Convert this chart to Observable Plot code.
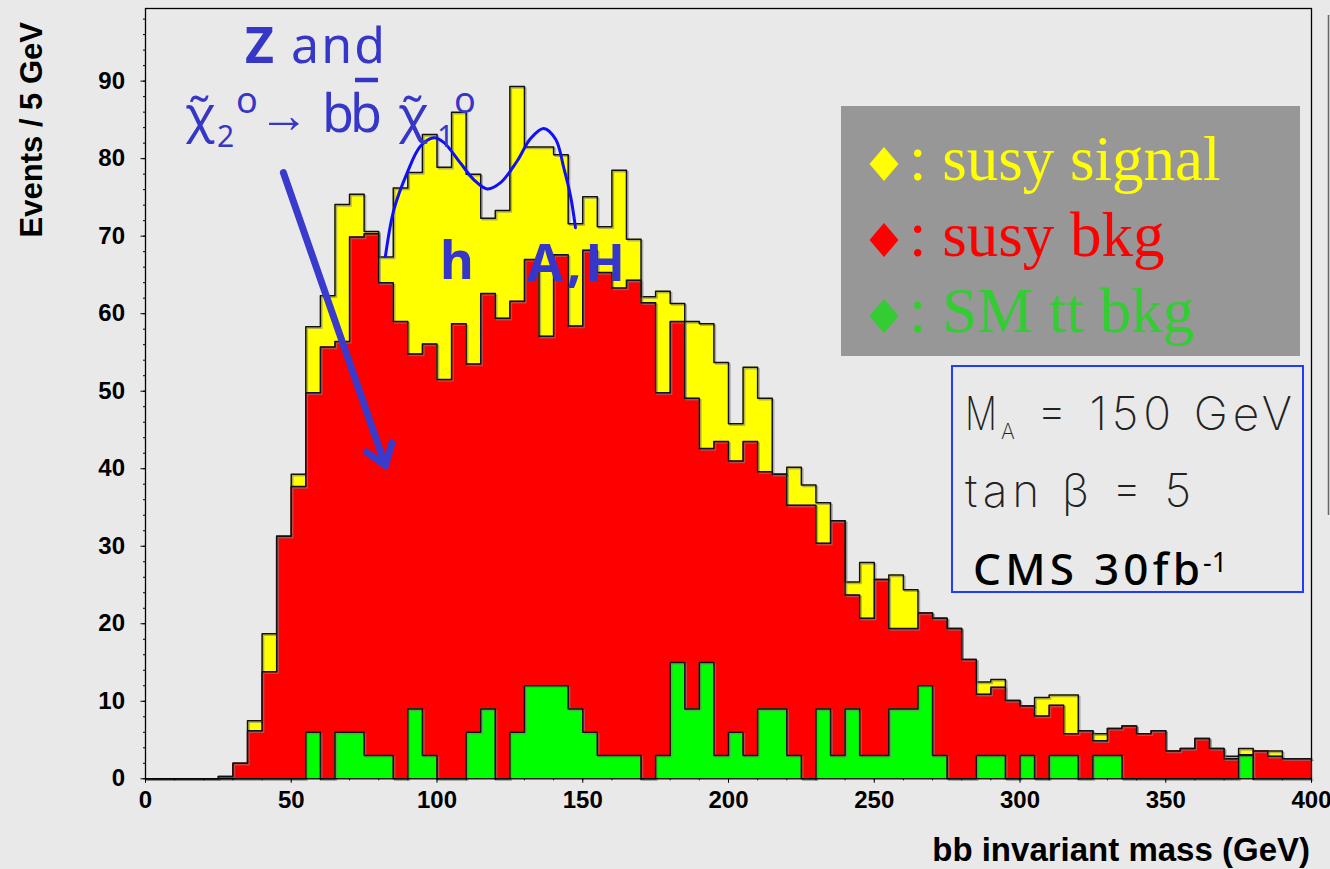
<!DOCTYPE html>
<html>
<head>
<meta charset="utf-8">
<script src="https://cdn.jsdelivr.net/npm/d3@7"></script>
<script src="https://cdn.jsdelivr.net/npm/@observablehq/plot@0.6"></script>
<style>
  html, body { margin: 0; padding: 0; background: #e9e9e9; }
  #chart { position: relative; width: 1330px; height: 869px; overflow: hidden; }
</style>
</head>
<body>
<div id="chart"></div>
<script>
// bb invariant mass, 5 GeV bins from 0 to 400 GeV (lower bin edges)
const binWidth = 5;
const binLo = d3.range(0, 400, binWidth);

// Stacked histogram tops (events / 5 GeV)
// signal + susy bkg + SM tt
const stackTotal = [
  0, 0, 0, 0, 0, 0.3, 2, 7.5, 18.7, 31.3,
  39.3, 58.3, 62.3, 74.1, 75.4, 70.6, 67.3, 76.2, 78.2, 83.1,
  78.9, 86.0, 78.0, 72.3, 73.3, 89.3, 81.5, 81.5, 80.5, 71.6,
  75.1, 71.2, 78.5, 69.6, 62.2, 62.9, 61.3, 59.0, 58.7, 53.7,
  45.8, 53.1, 49.1, 39.3, 40.2, 37.9, 35.6, 33.3, 25.4, 27.9,
  25.7, 26.3, 24.4, 21.4, 20.7, 19.4, 15.4, 12.5, 12.8, 10.1,
  9.4, 10.5, 10.8, 10.8, 6.2, 5.8, 6.5, 6.8, 5.8, 6.2,
  3.6, 3.9, 5.2, 3.9, 2.9, 3.9, 3.6, 3.6, 2.6, 2.6
];
// susy bkg + SM tt
const bkgTotal = [
  0, 0, 0, 0, 0, 0.3, 2, 6.2, 13.8, 31.3,
  37.7, 49.8, 55.7, 56.4, 69.9, 70.3, 64.0, 59.0, 54.8, 56.1,
  51.5, 58.7, 53.5, 62.6, 59.4, 61.6, 67.0, 57.1, 67.6, 58.4,
  68.2, 65.3, 63.3, 64.3, 61.4, 49.8, 59.0, 49.1, 42.6, 43.5,
  41.0, 43.5, 39.6, 39.3, 35.3, 35.3, 30.4, 33.3, 23.7, 20.7,
  25.7, 19.4, 19.4, 21.4, 20.7, 19.4, 15.4, 10.9, 11.8, 10.1,
  9.4, 8.1, 9.5, 5.8, 6.2, 4.9, 6.5, 6.8, 5.8, 6.2,
  3.6, 3.9, 5.2, 3.9, 2.6, 3.1, 3.6, 2.9, 2.6, 2.6
];
// SM tt bkg
const smTt = [
  0, 0, 0, 0, 0, 0, 0, 0, 0, 0,
  0, 6, 0, 6, 6, 3, 3, 0, 9, 3,
  0, 0, 6, 9, 0, 6, 12, 12, 12, 9,
  6, 3, 3, 3, 0, 3, 15, 9, 15, 3,
  6, 3, 9, 9, 3, 0, 9, 3, 9, 3,
  3, 9, 9, 12, 3, 0, 0, 3, 3, 0,
  3, 0, 3, 3, 0, 3, 3, 0, 0, 0,
  0, 0, 0, 0, 0, 3, 0, 0, 0, 0
];

// Hand-drawn fit curve over the h and A,H peaks (GeV, events)
const curveMass   = [82.3, 85.2, 89.8, 94.3, 98.9, 102.3, 108.1, 112.6, 117.2, 121.8, 127.5, 132.1, 136.6, 140.7, 143.5, 145.8, 147.5];
const curveEvents = [67.4, 73.4, 78.2, 81.6, 82.7, 82.1, 79.4, 77.3, 76.1, 76.9, 79.7, 82.6, 83.9, 82.5, 78.8, 75.2, 71.1];

// Arrow pointing at the Z / neutralino region (GeV, events)
const arrowFrom = [47.3, 78.2];
const arrowTo   = [82.3, 40.4];

const yTicks = d3.range(0, 91, 10);
const yMinor = d3.range(0, 99, 2);
const xTicks = d3.range(0, 401, 50);
const xMinor = d3.range(0, 401, 10);

// Step outline points: one per lower bin edge plus the closing upper edge
function steps(vals) {
  const pts = binLo.map((x, i) => ({x, y: vals[i]}));
  pts.push({x: binLo[binLo.length - 1] + binWidth, y: vals[vals.length - 1]});
  return pts;
}

const layers = [
  {vals: stackTotal, fill: "#ffff00"},
  {vals: bkgTotal, fill: "#ff0000"},
  {vals: smTt, fill: "#00ff00"}
];

const histMarks = layers.flatMap(({vals, fill}) => {
  const pts = steps(vals);
  return [
    Plot.areaY(pts, {x: "x", y: "y", curve: "step-after", fill}),
    Plot.line(pts, {x: "x", y: "y", curve: "step-after", stroke: "#808080", strokeWidth: 1.5, dx: 1.5, dy: 1.5, strokeOpacity: 0.6}),
    Plot.line(pts, {x: "x", y: "y", curve: "step-after", stroke: "#111", strokeWidth: 1.5})
  ];
});

const curvePts = curveMass.map((m, i) => ({m, e: curveEvents[i]}));

const chart = Plot.plot({
  width: 1330,
  height: 869,
  marginLeft: 145,
  marginRight: 19,
  marginTop: 8,
  marginBottom: 90.7,
  x: {domain: [0, 400]},
  y: {domain: [0, 99.37]},
  style: {background: "none", color: "black", fontFamily: "'Liberation Sans', Arial, sans-serif", overflow: "visible"},
  marks: [
    ...histMarks,
    Plot.line(curvePts, {x: "m", y: "e", curve: "catmull-rom", stroke: "#1010f5", strokeWidth: 3}),
    Plot.arrow([{}], {
      x1: () => arrowFrom[0], y1: () => arrowFrom[1],
      x2: () => arrowTo[0], y2: () => arrowTo[1],
      stroke: "#3a3acc", strokeWidth: 7, headLength: 5, headAngle: 70
    }),
    Plot.axisY({ticks: yMinor, tickSize: 2, tickFormat: () => "", label: null}),
    Plot.axisY({ticks: yTicks, tickSize: 4.5, tickPadding: 16, fontSize: 24, fontWeight: "bold", label: null}),
    Plot.axisX({ticks: xMinor, tickSize: 2, tickFormat: () => "", label: null}),
    Plot.axisX({ticks: xTicks, tickSize: 4.5, tickPadding: 8, fontSize: 24, fontWeight: "bold", label: null}),
    Plot.frame({stroke: "#000", strokeWidth: 1.3})
  ]
});

document.getElementById("chart").appendChild(chart);

// Titles, legend, parameter box and annotations drawn on the same SVG
const svg = d3.select(chart);
const hand = "'Comic Sans MS', 'Noto Sans', 'Open Sans', sans-serif";
const blue = "#3636c8";

// axis titles
svg.append("text")
  .attr("transform", "translate(42,22) rotate(-90)")
  .attr("text-anchor", "end")
  .attr("font-family", "'Liberation Sans', Arial, sans-serif")
  .attr("font-weight", "bold").attr("font-size", 31)
  .text("Events / 5 GeV");
svg.append("text")
  .attr("x", 1310).attr("y", 861)
  .attr("text-anchor", "end")
  .attr("font-family", "'Liberation Sans', Arial, sans-serif")
  .attr("font-weight", "bold").attr("font-size", 33)
  .text("bb invariant mass (GeV)");

// right-hand border line of the neighbouring panel
svg.append("line").attr("x1", 1328.5).attr("x2", 1328.5).attr("y1", 15).attr("y2", 515)
  .attr("stroke", "#666").attr("stroke-width", 1.5);

// legend
const leg = svg.append("g").attr("text-anchor", "start");
leg.append("rect").attr("x", 841).attr("y", 106).attr("width", 459).attr("height", 250).attr("fill", "#979797");
const legendItems = [
  {label: ": susy signal", color: "#ffff00", base: 180, cy: 164},
  {label: ": susy bkg", color: "#ff0000", base: 256, cy: 240},
  {label: ": SM tt bkg", color: "#33cc33", base: 332, cy: 316}
];
for (const it of legendItems) {
  leg.append("path")
    .attr("d", `M884,${it.cy - 17}L898.5,${it.cy}L884,${it.cy + 17}L869.5,${it.cy}Z`)
    .attr("fill", it.color);
  leg.append("text")
    .attr("x", 909).attr("y", it.base)
    .attr("font-family", "'Liberation Serif', 'Times New Roman', serif")
    .attr("font-size", 63).attr("fill", it.color)
    .text(it.label);
}

// parameter box
const box = svg.append("g").attr("text-anchor", "start");
box.append("rect").attr("x", 952).attr("y", 366).attr("width", 351).attr("height", 226)
  .attr("fill", "none").attr("stroke", "#1f3dff").attr("stroke-width", 2);
const thin = "Inter, Lato, 'Open Sans', sans-serif";
box.append("text").attr("x", 965).attr("y", 430).attr("font-family", thin).attr("font-weight", 200)
  .attr("font-size", 46).attr("fill", "#222")
  .attr("textLength", 32).attr("lengthAdjust", "spacingAndGlyphs").text("M");
box.append("text").attr("x", 1001).attr("y", 439).attr("font-family", thin).attr("font-weight", 200)
  .attr("font-size", 21).attr("fill", "#222").text("A");
box.append("text").attr("x", 1037).attr("y", 430).attr("font-family", thin).attr("font-weight", 200)
  .attr("font-size", 46).attr("fill", "#222").attr("textLength", 255).text("= 150 GeV");
box.append("text").attr("x", 965).attr("y", 507).attr("font-family", thin).attr("font-weight", 200)
  .attr("font-size", 46).attr("fill", "#222").attr("textLength", 226).text("tan β = 5");
box.append("text").attr("x", 973).attr("y", 585).attr("font-family", hand).attr("font-weight", 500)
  .attr("font-size", 44).attr("fill", "#000").attr("textLength", 227).text("CMS 30fb");
box.append("text").attr("x", 1203).attr("y", 572).attr("font-family", hand)
  .attr("font-size", 27).attr("fill", "#000").text("-1");

// hand-written annotations
const ann = svg.append("g").attr("fill", blue).attr("font-family", hand).attr("text-anchor", "start");
ann.append("text").attr("x", 245).attr("y", 63).attr("font-size", 50).attr("textLength", 140)
  .html('<tspan font-weight="bold">Z</tspan> and');
ann.append("text").attr("x", 185).attr("y", 132).attr("font-size", 50).text("χ\u0303");
ann.append("text").attr("x", 217).attr("y", 147).attr("font-size", 30).text("2");
ann.append("text").attr("x", 236).attr("y", 113).attr("font-size", 36).text("o");
ann.append("text").attr("x", 259).attr("y", 132).attr("font-size", 50).attr("textLength", 48).text("→");
ann.append("text").attr("x", 322).attr("y", 132).attr("font-size", 52).attr("textLength", 60).text("bb");
ann.append("line").attr("x1", 355).attr("x2", 378).attr("y1", 80).attr("y2", 80)
  .attr("stroke", blue).attr("stroke-width", 4.5);
ann.append("text").attr("x", 398).attr("y", 132).attr("font-size", 50).text("χ\u0303");
ann.append("text").attr("x", 437).attr("y", 147).attr("font-size", 30).text("1");
ann.append("text").attr("x", 454).attr("y", 113).attr("font-size", 36).text("o");
ann.append("text").attr("x", 440).attr("y", 279).attr("font-size", 52).attr("font-weight", "bold").text("h");
ann.append("text").attr("x", 527).attr("y", 281).attr("font-size", 52).attr("font-weight", "bold")
  .attr("textLength", 98).text("A,H");
</script>
</body>
</html>
